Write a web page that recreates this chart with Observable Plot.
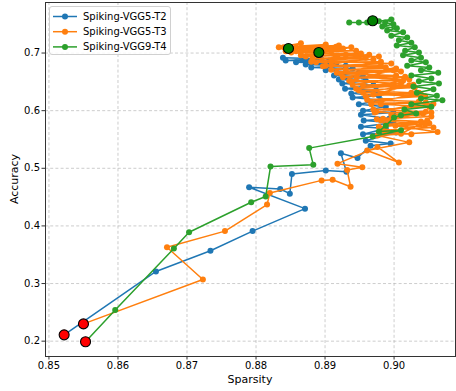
<!DOCTYPE html>
<html><head><meta charset="utf-8">
<script src="https://cdn.jsdelivr.net/npm/d3@7"></script>
<script src="https://cdn.jsdelivr.net/npm/@observablehq/plot@0.6"></script>
<style>
body{margin:0;background:#fff;font-family:"DejaVu Sans",sans-serif;}
#wrap{position:relative;width:456px;height:391px;overflow:hidden;}
.lab{position:absolute;font-size:11px;color:#000;white-space:nowrap;}
#legend{position:absolute;left:49px;top:6px;width:122px;height:49px;border:1px solid #d0d0d0;border-radius:3px;background:rgba(255,255,255,0.85);box-sizing:border-box;}
</style></head><body><div id="wrap"></div>
<script>
const seriesNames = ["Spiking-VGG5-T2", "Spiking-VGG5-T3", "Spiking-VGG9-T4"];
const seriesColors = ["#1f77b4", "#ff7f0e", "#2ca02c"];
const xTicks = [0.85, 0.86, 0.87, 0.88, 0.89, 0.90];
const yTicks = [0.2, 0.3, 0.4, 0.5, 0.6, 0.7];

const blueSparsity = [0.8522,0.8655,0.8734,0.8795,0.8871,0.8790,0.8835,0.8849,0.8852,0.8901,0.8931,0.8923,0.8947,0.8966,0.8995,
  0.8959,0.9003,0.8955,0.8988,0.8952,0.8999,0.8956,0.8993,0.8952,0.8999,0.8955,0.8988,0.8949,0.8981,0.8940,0.8978,0.8938,0.8974,0.8929,0.8970,0.8925,0.8959,0.8920,0.8955,0.8913,0.8949,0.8901,0.8940,0.8880,0.8930,0.8872,0.8916,0.8858,0.8906,0.8843,0.8894,0.8839];
const blueAccuracy = [0.211,0.321,0.357,0.391,0.430,0.467,0.464,0.456,0.490,0.496,0.494,0.526,0.518,0.539,0.543,
  0.548,0.562,0.559,0.569,0.572,0.579,0.583,0.586,0.593,0.597,0.600,0.607,0.611,0.618,0.623,0.626,0.630,0.635,0.638,0.644,0.647,0.652,0.654,0.659,0.661,0.666,0.670,0.673,0.675,0.678,0.680,0.682,0.684,0.687,0.687,0.690,0.692];

const orangeSparsity = [0.8550,0.8723,0.8671,0.8755,0.8816,0.8820,0.8895,0.8911,0.8937,0.8932,0.8954,0.8918,0.8976,0.9007,0.8961,0.9022,0.8976,0.9063,0.9002,0.9048,
  0.9010,0.8978,0.9051,0.8984,0.9042,0.8974,0.9057,0.8967,0.9039,0.8955,0.9022,0.8940,0.9016,0.8926,0.9003,0.8909,0.8981,0.8887,0.8964,0.8872,0.8938,0.8858,0.8916,0.8843,
  0.8851,0.8909,0.8865,0.8930,0.8880,0.8959,0.8897,0.8981,0.8917,0.8999,0.8935,0.9013,0.8945,0.9028,0.8959,0.9036,0.8967,0.9046,0.8972,0.9054,0.8981,0.9045,0.8987,0.9025,
  0.8984,0.9057,0.8988,0.9039,0.8975,0.9054,0.8996,0.9046,0.8970,0.9051,0.8981,0.9036,0.8961,0.9045,0.8970,0.9025,0.8949,0.9030,0.8955,0.9010,0.8938,0.9022,0.8946,0.9003,0.8923,0.9010,0.8930,0.8988,0.8901,0.8996,0.8909,0.8970,0.8882,0.8978,0.8891,0.8952,0.8865,0.8945,0.8872,0.8926,0.8851,0.8920,0.8840,0.8901,0.8833,0.8865,0.8848];
const orangeAccuracy = [0.230,0.307,0.363,0.391,0.437,0.457,0.479,0.480,0.468,0.497,0.502,0.508,0.537,0.510,0.531,0.545,0.557,0.563,0.574,0.583,
  0.560,0.572,0.578,0.586,0.595,0.598,0.612,0.614,0.628,0.631,0.644,0.645,0.659,0.658,0.673,0.671,0.685,0.684,0.697,0.694,0.710,0.703,0.711,0.703,
  0.701,0.704,0.696,0.697,0.685,0.692,0.677,0.678,0.666,0.670,0.652,0.652,0.638,0.645,0.625,0.631,0.611,0.614,0.597,0.597,0.583,0.576,0.562,0.559,
  0.566,0.571,0.576,0.581,0.585,0.590,0.593,0.598,0.602,0.607,0.611,0.616,0.619,0.625,0.628,0.631,0.635,0.640,0.644,0.647,0.651,0.654,0.658,0.661,0.664,0.668,0.671,0.675,0.678,0.682,0.685,0.689,0.691,0.694,0.696,0.699,0.701,0.704,0.704,0.708,0.708,0.713,0.710,0.715,0.710,0.717,0.708];

const greenSparsity = [0.8553,0.8596,0.8681,0.8703,0.8793,0.8814,0.8821,0.8883,0.8877,0.8969,0.9010,0.8978,0.8988,0.9000,0.9010,
  0.9032,0.9015,0.9054,0.9025,0.9070,0.9039,0.9062,0.9033,0.9057,0.9028,0.9065,0.9036,0.9054,0.9025,0.9064,0.9039,0.9051,0.9019,0.9046,0.9025,0.9039,0.9013,0.9036,0.9016,0.9030,0.9004,0.9025,0.9007,0.9019,0.8996,0.9013,0.8990,0.9004,0.8983,0.8999,0.8987,0.8996,0.8978,0.8969,0.8961,0.8949,0.8935];
const greenAccuracy = [0.199,0.254,0.361,0.389,0.441,0.451,0.503,0.506,0.535,0.555,0.566,0.564,0.574,0.588,0.592,
  0.595,0.602,0.607,0.611,0.618,0.621,0.626,0.631,0.637,0.642,0.647,0.651,0.656,0.661,0.666,0.670,0.675,0.678,0.684,0.687,0.692,0.696,0.701,0.704,0.710,0.713,0.718,0.722,0.727,0.730,0.736,0.739,0.743,0.746,0.750,0.753,0.758,0.755,0.756,0.753,0.753,0.753];

const startSparsity = [0.8522, 0.8550, 0.8553];
const startAccuracy = [0.211, 0.230, 0.199];
const bestSparsity = [0.8891, 0.8847, 0.8969];
const bestAccuracy = [0.701, 0.708, 0.756];

const series = [
  {name: seriesNames[0], xs: blueSparsity, ys: blueAccuracy},
  {name: seriesNames[1], xs: orangeSparsity, ys: orangeAccuracy},
  {name: seriesNames[2], xs: greenSparsity, ys: greenAccuracy}
];
const starts = startSparsity.map((x, i) => ({x, y: startAccuracy[i]}));
const bests = bestSparsity.map((x, i) => ({x, y: bestAccuracy[i]}));

const marks = [
  Plot.gridX(xTicks, {stroke: "#b0b0b0", strokeOpacity: 0.8, strokeDasharray: "3,2.2", strokeWidth: 0.8}),
  Plot.gridY(yTicks, {stroke: "#b0b0b0", strokeOpacity: 0.8, strokeDasharray: "3,2.2", strokeWidth: 0.8})
];
series.forEach((s, i) => {
  const data = s.xs.map((x, j) => ({x, y: s.ys[j]}));
  marks.push(Plot.line(data, {x: "x", y: "y", stroke: seriesColors[i], strokeWidth: 1.5, curve: "linear"}));
  marks.push(Plot.dot(data, {x: "x", y: "y", r: 3, fill: seriesColors[i], stroke: "none"}));
});
marks.push(Plot.dot(starts, {x: "x", y: "y", r: 5, fill: "#ff0000", stroke: "#000", strokeWidth: 1.1}));
marks.push(Plot.dot(bests, {x: "x", y: "y", r: 5, fill: "#008000", stroke: "#000", strokeWidth: 1.1}));
marks.push(Plot.frame({stroke: "#333", strokeWidth: 1}));
marks.push(Plot.axisX(xTicks, {tickSize: 3.5, tickPadding: 2, tickFormat: d3.format(".2f"), fontSize: 10, label: null, stroke: "#333"}));
marks.push(Plot.axisY(yTicks, {tickSize: 3.5, tickPadding: 2, tickFormat: d3.format(".1f"), fontSize: 10, label: null, stroke: "#333"}));

const chart = Plot.plot({
  width: 456, height: 391,
  marginLeft: 45, marginRight: 1, marginTop: 2, marginBottom: 35,
  style: {fontFamily: "DejaVu Sans, sans-serif", fontSize: "10px", color: "#000", background: "#fff", overflow: "visible"},
  x: {domain: [0.8495, 0.9089]},
  y: {domain: [0.1734, 0.7877]},
  marks
});
const wrap = document.getElementById("wrap");
wrap.appendChild(chart);

const xl = document.createElement("div");
xl.className = "lab"; xl.textContent = "Sparsity";
xl.style.left = "250px"; xl.style.top = "373px"; xl.style.transform = "translateX(-50%)";
wrap.appendChild(xl);
const yl = document.createElement("div");
yl.className = "lab"; yl.textContent = "Accuracy";
yl.style.left = "14px"; yl.style.top = "179px"; yl.style.transform = "translate(-50%,-50%) rotate(-90deg)";
wrap.appendChild(yl);

const leg = document.createElement("div");
leg.id = "legend";
const ns = "http://www.w3.org/2000/svg";
const lsvg = document.createElementNS(ns, "svg");
lsvg.setAttribute("width", 122); lsvg.setAttribute("height", 49);
seriesNames.forEach((name, i) => {
  const cy = 9.5 + i * 15.2;
  const ln = document.createElementNS(ns, "line");
  ln.setAttribute("x1", 3); ln.setAttribute("x2", 27); ln.setAttribute("y1", cy); ln.setAttribute("y2", cy);
  ln.setAttribute("stroke", seriesColors[i]); ln.setAttribute("stroke-width", 1.5);
  lsvg.appendChild(ln);
  const c = document.createElementNS(ns, "circle");
  c.setAttribute("cx", 15); c.setAttribute("cy", cy); c.setAttribute("r", 3); c.setAttribute("fill", seriesColors[i]);
  lsvg.appendChild(c);
  const t = document.createElementNS(ns, "text");
  t.setAttribute("x", 33); t.setAttribute("y", cy); t.setAttribute("dy", "0.35em");
  t.setAttribute("font-size", "10px"); t.setAttribute("font-family", "DejaVu Sans, sans-serif");
  t.textContent = name;
  lsvg.appendChild(t);
});
leg.appendChild(lsvg);
wrap.appendChild(leg);
</script></body></html>
